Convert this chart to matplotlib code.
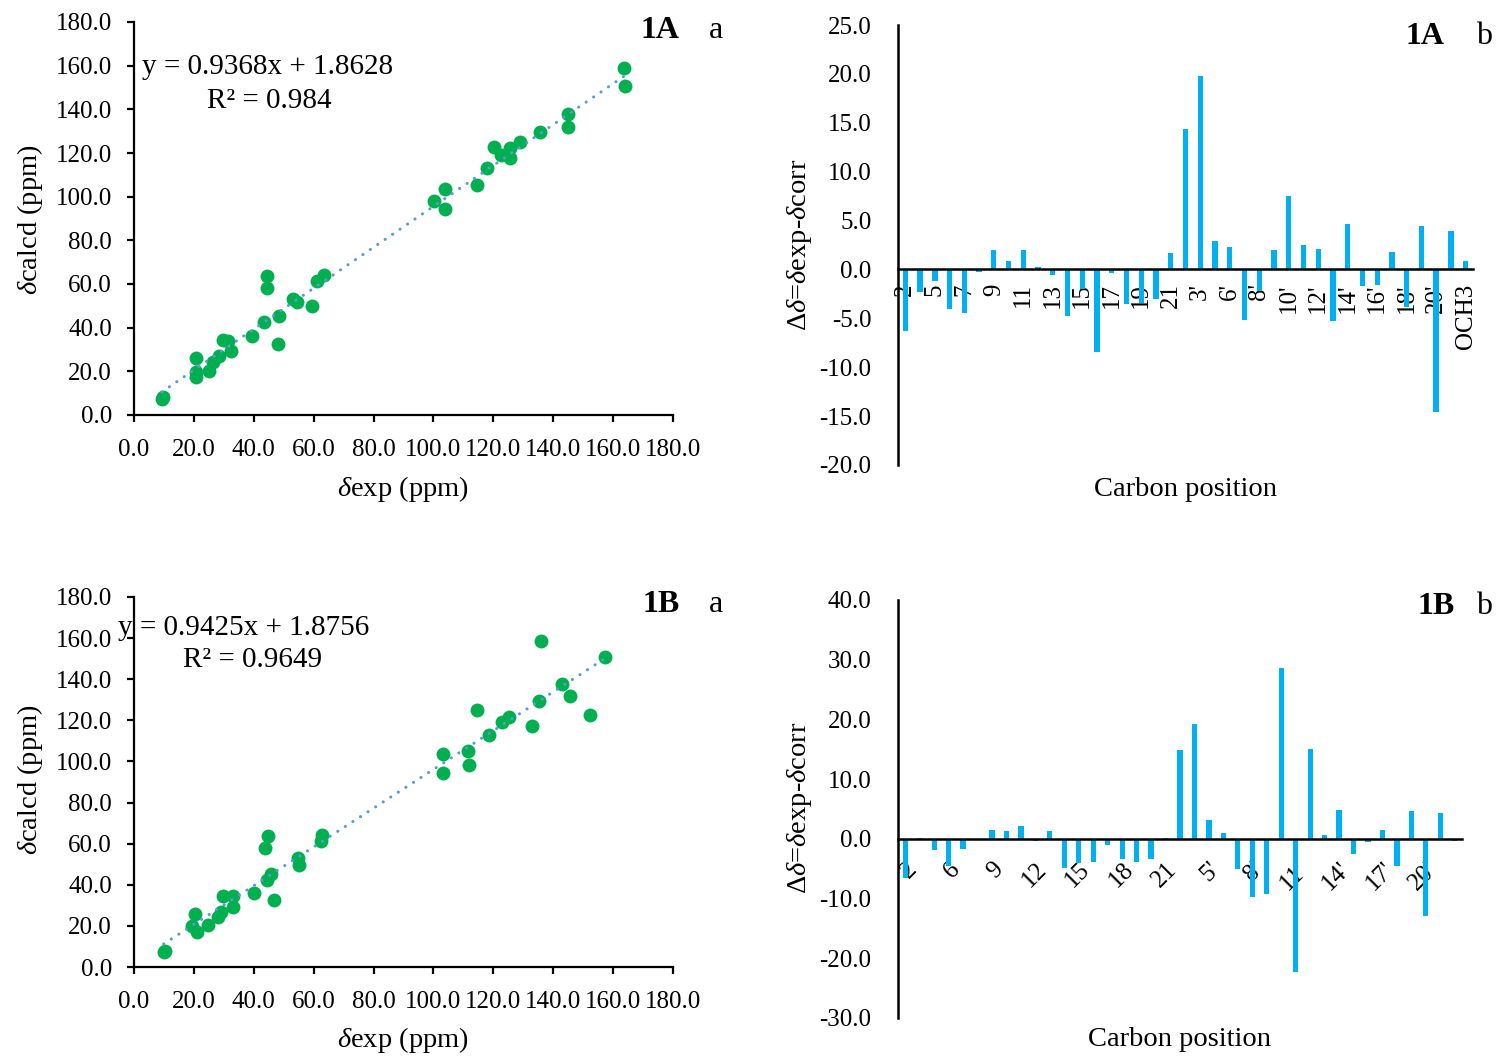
# Recreate figure: calculated vs experimental 13C shifts (1A, 1B) and per-carbon deviations.

import numpy as np
import matplotlib
matplotlib.use("Agg")
import matplotlib.pyplot as plt
from matplotlib.ticker import FormatStrFormatter

plt.rcParams["font.family"] = ["Liberation Serif", "DejaVu Serif"]
plt.rcParams["mathtext.fontset"] = "custom"
plt.rcParams["mathtext.rm"] = "Liberation Serif"
plt.rcParams["mathtext.it"] = "Liberation Serif:italic"

# ---- data: 1A scatter
exp_1A = [9.3, 9.6, 20.8, 20.6, 20.8, 25.0, 26.4, 28.3, 29.8, 31.5, 32.5, 39.5, 43.5, 44.3,
          44.3, 48.5, 48.2, 53.2, 54.5, 59.6, 61.0, 63.3, 100.2, 103.8, 103.7, 114.5, 117.9,
          120.2, 122.6, 125.4, 125.4, 128.8, 135.7, 145.0, 145.0, 163.8, 164.0]
calc_1A = [7.2, 8.2, 26.0, 19.9, 17.2, 20.2, 24.5, 27.1, 34.5, 34.0, 29.1, 36.3, 42.4, 63.6,
           58.0, 45.5, 32.6, 53.1, 51.6, 49.8, 61.3, 64.3, 98.2, 103.7, 94.3, 105.2, 113.3,
           122.8, 119.1, 122.2, 117.6, 125.1, 129.4, 137.8, 131.9, 158.8, 150.8]
fit_1A = (0.9368, 1.8628)

# ---- data: 1B scatter
exp_1B = [9.9, 10.3, 20.5, 19.4, 21.2, 24.8, 27.9, 29.1, 29.6, 33.0, 33.0, 40.0, 44.3, 45.8,
          44.6, 43.7, 46.6, 54.8, 55.0, 62.4, 62.9, 103.2, 103.3, 111.5, 112.0, 114.4, 118.6,
          122.9, 125.1, 132.9, 135.2, 136.0, 142.8, 145.5, 152.2, 157.3]
calc_1B = [7.3, 7.8, 25.9, 19.8, 17.0, 20.6, 24.3, 26.7, 34.3, 34.3, 29.1, 36.1, 42.4, 45.3,
           63.5, 58.1, 32.7, 53.0, 49.7, 61.2, 64.3, 103.6, 94.3, 104.9, 98.3, 124.9, 113.0,
           119.0, 121.5, 117.2, 129.6, 158.5, 137.7, 131.8, 122.8, 150.9]
fit_1B = (0.9425, 1.8756)

# ---- data: carbon positions and deviations
carbons = (["2", "3"] + [str(i) for i in range(5, 22)]
           + ["2'", "3'"] + [f"{i}'" for i in range(5, 22)] + ["OCH3"])
diff_1A = [-6.3, -2.3, -1.2, -4.0, -4.5, -0.3, 2.0, 0.85, 1.95, 0.25, -0.6, -4.8, -2.0,
           -8.4, -0.35, -3.5, -3.4, -3.0, 1.7, 14.4, 19.8, 2.9, 2.3, -5.2, -2.2, 1.95, 7.5,
           2.45, 2.1, -5.3, 4.6, -1.7, -1.6, 1.8, -3.8, 4.45, -14.6, 3.9, 0.85]
diff_1B = [-6.5, 0.15, -1.85, -4.5, -1.7, 0.0, 1.5, 1.35, 2.2, -0.4, 1.35, -4.9, -4.0,
           -3.9, -1.1, -3.35, -3.9, -3.3, 0.2, 14.9, 19.3, 3.1, 1.0, -5.0, -9.8, -9.2, 28.6,
           -22.3, 15.1, 0.7, 4.8, -2.6, -0.45, 1.55, -4.6, 4.6, -12.9, 4.4, -0.4]

GREEN = "#00B050"
BLUE = "#00B0F0"
TREND = "#5B9BD5"
FS = 18
LFS = 20.5
W, H = 1499, 1057


def frac(x0, y0, x1, y1):
    # pixel box (left, top, right, bottom) -> figure fraction rect
    return [x0 / W, 1 - y1 / H, (x1 - x0) / W, (y1 - y0) / H]


def tag_text(tag, letter, tpos, lpos):
    fig.text(tpos[0] / W, 1 - tpos[1] / H, tag, fontsize=23, fontweight="bold", ha="center", va="center")
    fig.text(lpos[0] / W, 1 - lpos[1] / H, letter, fontsize=23, ha="center", va="center")


def scatter_panel(ax, x, y, fit, eq, r2, eqpos):
    ax.scatter(x, y, s=100, color=GREEN, zorder=3, linewidths=0)
    xs = np.array([min(x), max(x)])
    ax.plot(xs, fit[0] * xs + fit[1], color=TREND, lw=2.2, ls=(0, (0.05, 2.9)),
            dash_capstyle="round", zorder=4)
    ax.set_xlim(0, 180); ax.set_ylim(0, 180)
    ax.set_xticks(np.arange(0, 181, 20)); ax.set_yticks(np.arange(0, 181, 20))
    ax.xaxis.set_major_formatter(FormatStrFormatter("%.1f"))
    ax.yaxis.set_major_formatter(FormatStrFormatter("%.1f"))
    for s in ["top", "right"]:
        ax.spines[s].set_visible(False)
    for s in ["left", "bottom"]:
        ax.spines[s].set_linewidth(1.6)
    ax.tick_params(axis="both", direction="out", length=5, width=1.6, labelsize=FS)
    ax.tick_params(axis="x", pad=12)
    ax.tick_params(axis="y", pad=11)
    ax.text(eqpos[0], eqpos[1], eq, transform=ax.transAxes, fontsize=21, va="center")
    ax.text(eqpos[0] + 0.12, eqpos[1] - 0.085, r2, transform=ax.transAxes, fontsize=21, va="center")


def bar_panel(ax, vals, ylim, step, every, rot):
    pos = np.arange(len(carbons))
    ax.bar(pos, vals, width=0.36, color=BLUE, zorder=2)
    ax.set_xlim(-0.5, len(carbons) - 0.5)
    ax.set_ylim(*ylim)
    ax.set_yticks(np.arange(ylim[0], ylim[1] + 0.1, step))
    ax.yaxis.set_major_formatter(FormatStrFormatter("%.1f"))
    labels = [c if i % every == 0 else "" for i, c in enumerate(carbons)]
    ax.set_xticks(pos)
    for s in ["top", "right"]:
        ax.spines[s].set_visible(False)
    ax.spines["bottom"].set_position(("data", 0))
    ax.spines["bottom"].set_linewidth(1.8)
    ax.spines["bottom"].set_zorder(3)
    ax.spines["left"].set_linewidth(1.8)
    ax.tick_params(axis="y", length=0, labelsize=FS, pad=19)
    if rot == 90:
        ax.tick_params(axis="x", length=0, labelsize=FS, pad=10)
        ax.set_xticklabels(labels, rotation=90, ha="center", va="top")
    else:
        ax.tick_params(axis="x", length=0, labelsize=FS, pad=14)
        ax.set_xticklabels(labels, rotation=45, ha="right", va="top", rotation_mode="anchor")


fig = plt.figure(figsize=(W / 100, H / 100), dpi=100)

ax1 = fig.add_axes(frac(134, 22, 673, 415))
scatter_panel(ax1, exp_1A, calc_1A, fit_1A, "y = 0.9368x + 1.8628", "R² = 0.984", (0.015, 0.885))
tag_text("1A", "a", (660, 31), (716, 31))
ax3 = fig.add_axes(frac(134, 597, 673, 967))
scatter_panel(ax3, exp_1B, calc_1B, fit_1B, "y = 0.9425x + 1.8756", "R² = 0.9649", (-0.03, 0.915))
tag_text("1B", "a", (661, 605), (716, 605))

ax2 = fig.add_axes(frac(898, 25, 1473, 465))
bar_panel(ax2, diff_1A, (-20, 25), 5, 2, 90)
tag_text("1A", "b", (1425, 37), (1484, 37))
ax4 = fig.add_axes(frac(898, 600, 1462, 1018))
bar_panel(ax4, diff_1B, (-30, 40), 10, 3, 45)
tag_text("1B", "b", (1436, 606), (1484, 606))

# axis titles
for yc in (220, 780):
    fig.text(30 / W, 1 - yc / H, r"$\delta$calcd (ppm)", fontsize=LFS, rotation=90, ha="center", va="center")
for yc in (489, 1040):
    fig.text(403 / W, 1 - yc / H, r"$\delta$exp (ppm)", fontsize=LFS, ha="center", va="center")
for yc in (245, 808):
    fig.text(800 / W, 1 - yc / H, r"Δ$\delta$=$\delta$exp-$\delta$corr", fontsize=LFS, rotation=90,
             ha="center", va="center")
fig.text(1185 / W, 1 - 489 / H, "Carbon position", fontsize=LFS, ha="center", va="center")
fig.text(1180 / W, 1 - 1040 / H, "Carbon position", fontsize=LFS, ha="center", va="center")

fig.savefig("out.png", dpi=100)
